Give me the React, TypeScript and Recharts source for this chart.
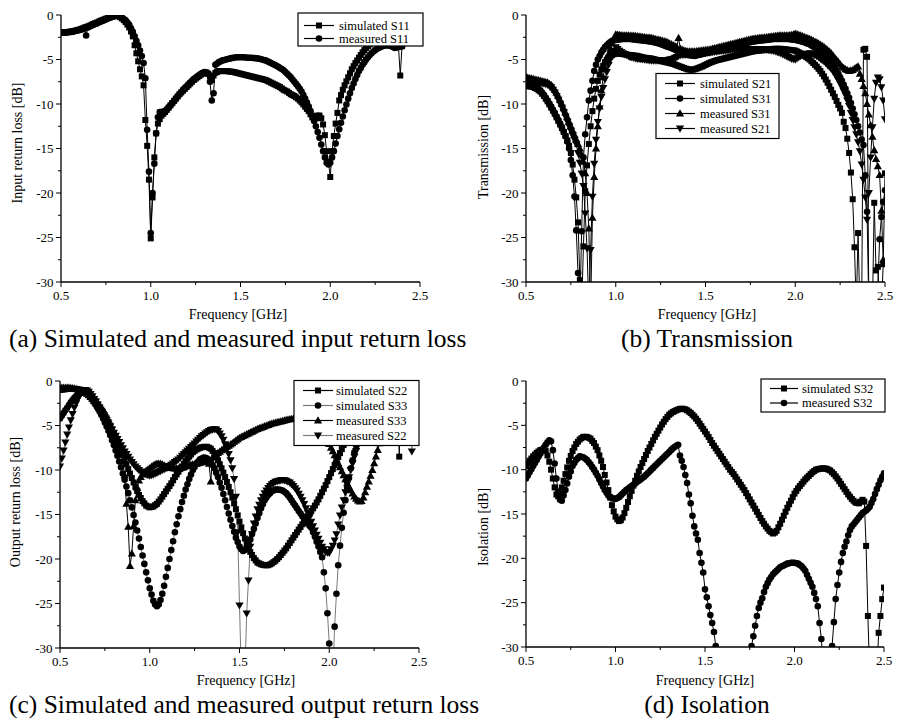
import React from 'react';
import { LineChart, Line, XAxis, YAxis } from 'recharts';

type Shape = 'square' | 'circle' | 'up' | 'down';
type V = number | null;

const FONT = "'Liberation Serif', 'Times New Roman', Times, serif";

// ---------- categories: frequency grid 0.50 .. 2.50 GHz, 0.01 GHz step ----------
const FREQ: number[] = Array.from({ length: 201 }, (_, i) => Math.round((0.5 + i * 0.01) * 100) / 100);

// ---------- axis ticks ----------
const FREQ_TICKS = [0.5, 0.75, 1, 1.25, 1.5, 1.75, 2, 2.25, 2.5];
const DB_TICKS = [0, -2.5, -5, -7.5, -10, -12.5, -15, -17.5, -20, -22.5, -25, -27.5, -30];

// ---------- (a) input return loss, rows of 10 starting at 0.50, 0.60, ... ----------
const A_SIM_S11: V[] = [
  -2.0, -1.97, -1.95, -1.92, -1.9, -1.87, -1.85, -1.8, -1.75, -1.7,
  -1.65, -1.58, -1.5, -1.42, -1.35, -1.28, -1.2, -1.1, -1.0, -0.92,
  -0.85, -0.75, -0.65, -0.57, -0.5, -0.42, -0.35, -0.27, -0.2, -0.15,
  -0.1, -0.1, -0.15, -0.25, -0.4, -0.58, -0.8, -1.08, -1.4, -1.85,
  -2.4, -3.4, -4.3, -5.2, -6.1, -6.9, -7.9, -11.8, -14.7, -18.5,
  -25.1, -20.5, -16.0, -13.3, -12.2, -11.7, -11.3, -11.1, -10.9, -10.65,
  -10.4, -10.15, -9.9, -9.65, -9.4, -9.15, -8.9, -8.7, -8.5, -8.3,
  -8.1, -7.9, -7.7, -7.5, -7.3, -7.15, -7.0, -6.85, -6.7, -6.6,
  -6.5, -6.5, -6.6, -6.9, -7.3, -6.8, -6.5, -6.4, -6.3, -6.3,
  -6.3, -6.3, -6.3, -6.32, -6.35, -6.37, -6.4, -6.45, -6.5, -6.55,
  -6.6, -6.65, -6.7, -6.75, -6.8, -6.85, -6.9, -6.95, -7.0, -7.05,
  -7.1, -7.15, -7.2, -7.25, -7.3, -7.4, -7.5, -7.6, -7.7, -7.8,
  -7.9, -8.0, -8.1, -8.25, -8.4, -8.5, -8.6, -8.75, -8.9, -9.0,
  -9.1, -9.25, -9.4, -9.6, -9.8, -10.05, -10.3, -10.55, -10.8, -11.15,
  -11.5, -11.6, -11.6, -11.3, -11.3, -11.6, -12.3, -13.5, -15.3, -16.5,
  -18.2, -15.3, -13.6, -12.2, -11.0, -9.6, -9.0, -8.4, -7.9, -7.45,
  -7.0, -6.55, -6.1, -5.75, -5.4, -5.1, -4.8, -4.5, -4.2, -3.95,
  -3.7, -3.5, -3.3, -3.15, -3.0, -2.9, -2.8, -2.7, -2.6, -2.55,
  -2.5, -2.55, -2.6, -2.7, -2.8, -2.95, -3.1, -3.3, -3.5, -6.8,
  -3.5, null, null, null, null, null, null, null, null, null,
  null,
];
const A_MEAS_S11: V[] = [
  -2.0, -2.0, -2.0, -1.97, -1.95, -1.92, -1.9, -1.85, -1.8, -1.75,
  -1.7, -1.65, -1.6, -1.55, -2.3, -1.4, -1.3, -1.2, -1.1, -1.02,
  -0.95, -0.85, -0.75, -0.67, -0.6, -0.5, -0.4, -0.32, -0.25, -0.17,
  -0.1, -0.08, -0.1, -0.18, -0.3, -0.45, -0.6, -0.85, -1.1, -1.5,
  -1.9, -2.4, -2.9, -3.4, -4.0, -4.6, -5.4, -7.1, -12.9, -17.6,
  -24.5, -20.0, -16.7, -13.3, -11.5, -10.9, -10.9, -10.85, -10.8, -10.6,
  -10.4, -10.15, -9.9, -9.65, -9.4, -9.15, -8.9, -8.65, -8.4, -8.2,
  -8.0, -7.8, -7.6, -7.4, -7.2, -7.05, -6.9, -6.75, -6.6, -6.5,
  -6.4, -6.45, -6.6, -7.5, -9.6, -8.8, -5.6, -5.45, -5.3, -5.2,
  -5.1, -5.05, -5.0, -4.95, -4.9, -4.85, -4.8, -4.78, -4.75, -4.75,
  -4.75, -4.75, -4.75, -4.77, -4.8, -4.8, -4.8, -4.83, -4.85, -4.87,
  -4.9, -4.95, -5.0, -5.05, -5.1, -5.2, -5.3, -5.4, -5.5, -5.6,
  -5.7, -5.82, -5.95, -6.07, -6.2, -6.4, -6.6, -6.8, -7.0, -7.25,
  -7.5, -7.75, -8.0, -8.3, -8.6, -9.0, -9.4, -9.85, -10.3, -10.8,
  -11.3, -11.9, -12.5, -13.15, -13.8, -14.55, -15.3, -16.0, -16.6, -16.8,
  -16.6, -16.0, -15.3, -14.45, -13.6, -12.85, -12.1, -11.4, -10.7, -10.05,
  -9.4, -8.8, -8.2, -7.7, -7.2, -6.75, -6.3, -5.95, -5.6, -5.3,
  -5.0, -4.75, -4.5, -4.3, -4.1, -3.95, -3.8, -3.7, -3.6, -3.52,
  -3.45, -3.42, -3.4, -3.45, -3.5, -3.6, -3.7, -3.65, -3.6, -3.55,
  -3.5, null, null, null, null, null, null, null, null, null,
  null,
];

// ---------- (b) transmission ----------
const B_SIM_S21: V[] = [
  -8.0, -8.0, -8.0, -8.05, -8.1, -8.2, -8.3, -8.45, -8.6, -8.85,
  -9.1, -9.4, -9.7, -10.05, -10.4, -10.75, -11.1, -11.5, -11.9, -12.3,
  -12.7, -13.15, -13.6, -14.1, -14.7, -15.5, -16.8, -18.5, -20.5, -23.3,
  -29.8, -33, -26.0, -19.8, -16.9, -14.5, -12.5, -10.8, -9.4, -8.3,
  -7.4, -6.7, -6.1, -5.7, -5.3, -5.05, -4.8, -4.65, -4.5, -4.4,
  -4.3, -4.32, -4.35, -4.37, -4.4, -4.42, -4.45, -4.47, -4.5, -4.52,
  -4.55, -4.57, -4.6, -4.65, -4.7, -4.75, -4.8, -4.82, -4.85, -4.87,
  -4.9, -4.95, -5.0, -5.05, -5.1, -5.15, -5.2, -5.25, -5.3, -5.35,
  -5.4, -5.45, -5.5, -5.57, -5.65, -5.72, -5.8, -5.87, -5.95, -6.02,
  -6.1, -6.13, -6.15, -6.13, -6.1, -6.03, -5.95, -5.87, -5.8, -5.7,
  -5.6, -5.5, -5.4, -5.32, -5.25, -5.17, -5.1, -5.05, -5.0, -4.95,
  -4.9, -4.85, -4.8, -4.75, -4.7, -4.65, -4.6, -4.55, -4.5, -4.45,
  -4.4, -4.35, -4.3, -4.25, -4.2, -4.15, -4.1, -4.07, -4.05, -4.02,
  -4.0, -3.97, -3.95, -3.92, -3.9, -3.87, -3.85, -3.82, -3.8, -3.8,
  -3.8, -3.8, -3.8, -3.82, -3.85, -3.87, -3.9, -3.92, -3.95, -3.97,
  -4.0, -4.1, -4.2, -4.3, -4.4, -4.55, -4.7, -4.85, -5.0, -5.2,
  -5.4, -5.6, -5.8, -6.05, -6.3, -6.6, -6.9, -7.25, -7.6, -8.0,
  -8.4, -8.8, -9.2, -9.65, -10.1, -10.5, -11.0, -12.0, -12.7, -13.9,
  -15.5, -17.7, -20.7, -26.1, -33, -24.5, -33, -33, -3.9, -3.8,
  -4.7, -33, -33, -33, -21.1, -28.7, -28.3, -33, -33, -28.0,
  -17.8,
];
const B_SIM_S31: V[] = [
  -7.8, -7.8, -7.8, -7.85, -7.9, -8.0, -8.1, -8.3, -8.5, -8.75,
  -9.0, -9.3, -9.6, -9.95, -10.3, -10.65, -11.0, -11.4, -11.8, -12.2,
  -12.6, -13.1, -13.6, -14.2, -15.0, -16.3, -18.0, -20.4, -24.2, -29.0,
  -33, -24.3, -16.0, -13.4, -11.5, -9.6, -8.5, -7.4, -6.3, -5.6,
  -5.0, -4.6, -4.2, -3.9, -3.6, -3.4, -3.2, -3.05, -2.9, -2.85,
  -2.8, -2.77, -2.75, -2.72, -2.7, -2.7, -2.7, -2.7, -2.7, -2.72,
  -2.75, -2.77, -2.8, -2.82, -2.85, -2.87, -2.9, -2.92, -2.95, -2.97,
  -3.0, -3.05, -3.1, -3.15, -3.2, -3.27, -3.35, -3.42, -3.5, -3.57,
  -3.65, -3.72, -3.8, -3.9, -4.0, -4.1, -4.2, -4.27, -4.35, -4.42,
  -4.5, -4.52, -4.55, -4.57, -4.6, -4.55, -4.5, -4.45, -4.4, -4.35,
  -4.3, -4.25, -4.2, -4.15, -4.1, -4.05, -4.0, -3.95, -3.9, -3.85,
  -3.8, -3.75, -3.7, -3.65, -3.6, -3.55, -3.5, -3.45, -3.4, -3.35,
  -3.3, -3.25, -3.2, -3.15, -3.1, -3.05, -3.0, -2.97, -2.95, -2.92,
  -2.9, -2.87, -2.85, -2.82, -2.8, -2.77, -2.75, -2.72, -2.7, -2.7,
  -2.7, -2.7, -2.7, -2.7, -2.7, -2.7, -2.7, -2.72, -2.75, -2.77,
  -2.8, -2.85, -2.9, -2.95, -3.0, -3.07, -3.15, -3.22, -3.3, -3.42,
  -3.55, -3.67, -3.8, -3.95, -4.1, -4.25, -4.4, -4.6, -4.8, -5.05,
  -5.3, -5.6, -5.9, -6.25, -6.6, -7.0, -7.4, -7.85, -8.3, -8.8,
  -9.3, -9.9, -10.5, -11.15, -11.8, -12.5, -13.2, -14.0, -14.6, -18.0,
  -22.1, -33, -33, -33, -33, -33, -30.5, -25.2, -22.7, -21.0,
  -19.7,
];
const B_MEAS_S31: V[] = [
  -7.0, -7.05, -7.1, -7.15, -7.2, -7.25, -7.3, -7.35, -7.4, -7.45,
  -7.5, -7.55, -7.6, -7.75, -7.9, -8.15, -8.4, -8.75, -9.1, -9.55,
  -10.0, -10.5, -11.0, -11.5, -12.0, -12.5, -13.0, -13.5, -14.0, -14.5,
  -15.0, -15.7, -16.5, -17.8, -20.0, -24.0, -33, -22.8, -18.2, -15.0,
  -12.5, -10.3, -8.5, -7.0, -5.9, -5.1, -4.4, -3.8, -3.2, -2.7,
  -2.2, -2.22, -2.25, -2.27, -2.3, -2.3, -2.3, -2.32, -2.35, -2.35,
  -2.35, -2.37, -2.4, -2.42, -2.45, -2.47, -2.5, -2.52, -2.55, -2.57,
  -2.6, -2.65, -2.7, -2.75, -2.8, -2.85, -2.9, -2.95, -3.0, -3.1,
  -3.2, -3.3, -3.4, -3.5, -3.6, -2.6, -3.8, -3.9, -4.0, -4.05,
  -4.1, -4.1, -4.1, -4.1, -4.1, -4.07, -4.05, -4.02, -4.0, -3.97,
  -3.95, -3.92, -3.9, -3.85, -3.8, -3.75, -3.7, -3.65, -3.6, -3.55,
  -3.5, -3.45, -3.4, -3.35, -3.3, -3.25, -3.2, -3.15, -3.1, -3.05,
  -3.0, -2.95, -2.9, -2.85, -2.8, -2.75, -2.7, -2.67, -2.65, -2.62,
  -2.6, -2.57, -2.55, -2.52, -2.5, -2.47, -2.45, -2.42, -2.4, -2.37,
  -2.35, -2.32, -2.3, -2.3, -2.3, -2.3, -2.3, -2.27, -2.25, -2.2,
  -2.1, -2.17, -2.25, -2.32, -2.4, -2.47, -2.55, -2.62, -2.7, -2.8,
  -2.9, -3.0, -3.1, -3.22, -3.35, -3.47, -3.6, -3.77, -3.95, -4.12,
  -4.3, -4.55, -4.8, -5.05, -5.3, -5.55, -5.8, -5.95, -6.1, -6.2,
  -6.3, -6.25, -6.2, -6.05, -5.9, -5.8, -6.6, -7.2, -8.0, -8.8,
  -10.0, -11.2, -12.4, -13.7, -15.2, -16.2, -17.0, -18.0, -22.0, -27.5,
  -27.9,
];
const B_MEAS_S21: V[] = [
  -7.3, -7.3, -7.3, -7.35, -7.4, -7.45, -7.5, -7.55, -7.6, -7.65,
  -7.7, -7.75, -7.8, -7.95, -8.1, -8.4, -8.7, -9.1, -9.5, -9.95,
  -10.4, -10.9, -11.4, -11.95, -12.5, -13.0, -13.5, -14.0, -14.5, -15.5,
  -16.6, -17.8, -19.2, -22.3, -26.2, -33, -26.4, -20.4, -16.7, -14.0,
  -12.0, -10.5, -9.2, -8.2, -7.2, -6.4, -5.6, -5.0, -4.4, -4.0,
  -3.6, -3.8, -4.0, -4.15, -4.3, -4.4, -4.5, -4.6, -4.7, -4.75,
  -4.8, -4.85, -4.9, -4.92, -4.95, -4.97, -5.0, -5.02, -5.05, -5.07,
  -5.1, -5.1, -5.1, -5.1, -5.1, -5.1, -5.1, -5.1, -5.1, -5.05,
  -5.0, -4.95, -4.9, -4.8, -4.7, -4.6, -4.5, -4.47, -4.45, -4.42,
  -4.4, -4.4, -4.4, -4.4, -4.4, -4.37, -4.35, -4.32, -4.3, -4.27,
  -4.25, -4.22, -4.2, -4.17, -4.15, -4.12, -4.1, -4.07, -4.05, -4.02,
  -4.0, -3.97, -3.95, -3.92, -3.9, -3.87, -3.85, -3.82, -3.8, -3.8,
  -3.8, -3.8, -3.8, -3.8, -3.8, -3.8, -3.8, -3.8, -3.8, -3.8,
  -3.8, -3.82, -3.85, -3.87, -3.9, -3.92, -3.95, -3.97, -4.0, -4.07,
  -4.15, -4.22, -4.3, -4.4, -4.5, -4.6, -4.7, -4.8, -4.9, -4.95,
  -5.0, -4.85, -4.7, -4.6, -4.5, -4.45, -4.4, -4.35, -4.3, -4.35,
  -4.4, -4.5, -4.6, -4.75, -4.9, -5.05, -5.2, -5.4, -5.6, -5.8,
  -6.0, -6.3, -6.6, -6.95, -7.3, -7.7, -8.1, -8.55, -9.0, -9.6,
  -10.2, -11.0, -11.8, -12.6, -13.4, -14.3, -15.3, -16.8, -18.5, -20.5,
  -23.0, -20.0, -16.0, -12.6, -9.4, -7.6, -7.0, -7.2, -8.1, -9.6,
  -11.7,
];

// ---------- (c) output return loss ----------
const C_SIM_S22: V[] = [
  -1.0, -0.97, -0.95, -0.92, -0.9, -0.9, -0.9, -0.9, -0.9, -0.92,
  -0.95, -0.97, -1.0, -1.07, -1.15, -1.27, -1.4, -1.6, -1.8, -2.05,
  -2.3, -2.6, -2.9, -3.2, -3.5, -3.85, -4.2, -4.6, -5.0, -5.45,
  -5.9, -6.35, -6.8, -7.3, -7.8, -8.3, -8.8, -9.35, -9.9, -10.4,
  -10.9, -11.4, -11.9, -12.35, -12.8, -13.15, -13.5, -13.75, -14.0, -14.1,
  -14.2, -14.15, -14.1, -13.95, -13.8, -13.55, -13.3, -13.0, -12.7, -12.4,
  -12.1, -11.8, -11.5, -11.15, -10.8, -10.5, -10.2, -9.9, -9.6, -9.3,
  -9.0, -8.75, -8.5, -8.25, -8.0, -7.85, -7.7, -7.6, -7.5, -7.45,
  -7.4, -7.4, -7.4, -7.5, -7.6, -7.85, -8.1, -8.5, -8.9, -9.35,
  -9.8, -10.3, -10.8, -11.35, -11.9, -12.5, -13.1, -13.75, -14.4, -15.1,
  -15.8, -16.45, -17.1, -17.7, -18.3, -18.75, -19.2, -19.55, -19.9, -20.15,
  -20.4, -20.5, -20.6, -20.65, -20.7, -20.7, -20.7, -20.6, -20.5, -20.35,
  -20.2, -20.0, -19.8, -19.55, -19.3, -19.05, -18.8, -18.5, -18.2, -17.9,
  -17.6, -17.3, -17.0, -16.7, -16.4, -16.1, -15.8, -15.5, -15.2, -14.9,
  -14.6, -14.3, -14.0, -13.65, -13.3, -12.9, -12.5, -12.1, -11.7, -11.25,
  -10.8, -10.35, -9.9, -9.45, -9.0, -8.55, -8.1, -7.65, -7.2, -6.75,
  -6.3, -5.9, -5.5, -5.1, -4.7, -4.35, -4.0, -3.7, -3.4, -3.15,
  -2.9, -2.65, -2.4, -2.2, -2.0, -1.8, -1.6, -1.45, -1.3, -1.15,
  -1.0, -0.9, -0.8, -0.7, -0.6, -0.55, -0.5, -0.45, -0.4, -8.5,
  -0.3, -0.28, -0.25, -0.22, -0.2, -0.2, -0.2, -0.2, -0.2, -0.25,
  -0.3,
];
const C_SIM_S33: V[] = [
  -4.2, -3.9, -3.6, -3.3, -3.0, -2.7, -2.4, -2.15, -1.9, -1.7,
  -1.5, -1.4, -1.3, -1.27, -1.3, -1.42, -1.6, -1.85, -2.1, -2.4,
  -2.7, -3.05, -3.4, -3.8, -4.2, -4.65, -5.1, -5.6, -6.1, -6.65,
  -7.2, -7.8, -8.4, -9.05, -9.7, -10.4, -11.1, -11.85, -12.6, -13.4,
  -14.2, -15.05, -15.9, -16.8, -17.7, -18.65, -19.6, -20.55, -21.5, -22.4,
  -23.3, -24.0, -24.7, -25.1, -25.3, -25.1, -24.6, -23.9, -23.0, -22.0,
  -21.0, -20.0, -19.0, -18.0, -17.0, -16.1, -15.2, -14.4, -13.6, -12.9,
  -12.2, -11.6, -11.0, -10.5, -10.0, -9.65, -9.3, -9.05, -8.8, -8.7,
  -8.6, -8.62, -8.7, -8.9, -9.1, -9.45, -9.8, -10.3, -10.8, -11.4,
  -12.0, -12.7, -13.4, -14.15, -14.9, -15.6, -16.3, -16.95, -17.6, -18.1,
  -18.6, -18.9, -19.1, -19.0, -18.8, -18.3, -17.8, -17.2, -16.6, -16.0,
  -15.4, -14.85, -14.3, -13.85, -13.4, -13.1, -12.8, -12.6, -12.4, -12.3,
  -12.2, -12.2, -12.2, -12.25, -12.3, -12.45, -12.6, -12.85, -13.1, -13.4,
  -13.7, -14.0, -14.3, -14.6, -14.9, -15.2, -15.5, -15.75, -16.0, -16.25,
  -16.5, -17.0, -17.5, -18.05, -18.6, -19.2, -19.8, -21.5, -23.3, -26.1,
  -29.5, -33, -33, -27.6, -23.9, -20.7, -18.5, -16.5, -14.8, -13.4,
  -12.0, -10.9, -9.8, -8.9, -8.0, -7.25, -6.5, -5.9, -5.3, -4.8,
  -4.3, -3.9, -3.5, -3.15, -2.8, -2.5, -2.2, -1.95, -1.7, -1.5,
  -1.3, -1.1, -0.9, -0.75, -0.6, -0.5, -0.4, -0.35, -0.3, -0.25,
  -0.2, -0.15, -0.1, -0.1, -0.1, -0.1, -0.1, -0.15, -0.2, -0.25,
  -0.3,
];
const C_MEAS_S33: V[] = [
  -0.8, -0.77, -0.75, -0.75, -0.75, -0.77, -0.8, -0.82, -0.85, -0.9,
  -0.95, -1.02, -1.1, -1.2, -1.3, -1.45, -1.6, -1.8, -2.0, -2.25,
  -2.5, -2.8, -3.1, -3.4, -3.7, -4.0, -4.35, -4.7, -5.05, -5.4,
  -5.8, -6.2, -6.7, -7.3, -8.0, -9.0, -10.6, -13.8, -16.4, -20.8,
  -19.4, -16.3, -13.4, -12.0, -11.2, -10.8, -10.5, -10.3, -10.1, -9.95,
  -9.8, -9.65, -9.5, -9.4, -9.3, -9.3, -9.3, -9.4, -9.5, -9.6,
  -9.7, -9.75, -9.8, -9.82, -9.85, -9.85, -9.85, -9.8, -9.75, -9.7,
  -9.6, -9.55, -9.5, -9.45, -9.4, -9.35, -9.3, -9.25, -9.2, -9.15,
  -9.1, -9.0, -8.95, -9.3, -11.3, -8.6, -8.4, -8.25, -8.1, -7.95,
  -7.8, -7.65, -7.5, -7.4, -7.3, -7.15, -7.0, -6.85, -6.7, -6.55,
  -6.4, -6.3, -6.2, -6.1, -6.0, -5.9, -5.8, -5.7, -5.6, -5.5,
  -5.4, -5.32, -5.25, -5.17, -5.1, -5.02, -4.95, -4.87, -4.8, -4.75,
  -4.7, -4.65, -4.6, -4.55, -4.5, -4.45, -4.4, -4.35, -4.3, -4.27,
  -4.25, -4.22, -4.2, -4.2, -4.2, -4.22, -4.25, -4.3, -4.4, -4.5,
  -4.6, -4.75, -4.9, -5.1, -5.3, -5.55, -5.8, -6.1, -6.4, -6.75,
  -7.1, -7.5, -7.9, -8.35, -8.8, -9.25, -9.7, -10.15, -10.6, -11.05,
  -11.5, -11.9, -12.3, -12.65, -13.0, -13.25, -13.45, -13.55, -13.5, -13.1,
  -12.5, -11.9, -11.3, -10.65, -10.0, -9.25, -8.5, -7.75, -7.0, -6.35,
  -5.7, -5.15, -4.6, -4.15, -3.7, -3.35, -3.0, -2.75, -2.5, -2.3,
  -2.1, -1.95, -1.8, -1.7, -1.6, -1.55, -1.5, -1.45, -1.4, -1.4,
  -1.4,
];
const C_MEAS_S22: V[] = [
  -9.6, -8.7, -7.8, -6.9, -6.0, -5.2, -4.4, -3.7, -3.0, -2.5,
  -2.0, -1.6, -1.3, -1.1, -1.0, -1.05, -1.2, -1.45, -1.7, -2.0,
  -2.3, -2.65, -3.0, -3.35, -3.7, -4.05, -4.4, -4.75, -5.1, -5.45,
  -5.8, -6.15, -6.5, -6.85, -7.2, -7.55, -7.9, -8.2, -8.5, -8.8,
  -9.1, -9.35, -9.6, -9.8, -10.0, -10.15, -10.3, -10.4, -10.5, -10.55,
  -10.6, -10.55, -10.5, -10.4, -10.3, -10.2, -10.1, -10.0, -9.9, -9.8,
  -9.7, -9.55, -9.4, -9.25, -9.1, -8.95, -8.8, -8.6, -8.4, -8.2,
  -8.0, -7.8, -7.6, -7.4, -7.2, -7.0, -6.8, -6.6, -6.4, -6.2,
  -6.05, -5.9, -5.75, -5.6, -5.5, -5.45, -5.4, -5.45, -5.6, -5.9,
  -6.2, -6.6, -7.1, -7.6, -8.2, -8.9, -9.8, -11.0, -13.0, -17.0,
  -25.2, -33, -33, -33, -26.1, -22.4, -18.6, -17.2, -16.0, -15.2,
  -14.4, -13.9, -13.4, -13.0, -12.6, -12.3, -12.0, -11.8, -11.6, -11.45,
  -11.3, -11.25, -11.2, -11.15, -11.1, -11.15, -11.2, -11.3, -11.4, -11.6,
  -11.8, -12.05, -12.3, -12.65, -13.0, -13.4, -13.8, -14.3, -14.8, -15.3,
  -15.8, -16.3, -16.8, -17.25, -17.7, -18.15, -18.6, -18.9, -19.2, -19.25,
  -19.3, -18.9, -18.5, -17.9, -17.2, -16.1, -15.1, -14.2, -13.4, -12.5,
  -11.6, -10.8, -10.0, -9.25, -8.5, -7.85, -7.2, -6.6, -6.0, -5.5,
  -5.0, -4.55, -4.1, -3.7, -3.3, -2.95, -2.6, -2.3, -2.0, -1.75,
  -1.5, -1.3, -1.1, -0.95, -0.8, -0.7, -0.6, -0.5, -0.4, -0.35,
  -0.3, -0.25, -0.2, -0.2, -0.2, -0.15, -7.9, -0.1, -0.1, -0.15,
  -1.6,
];

// ---------- (d) isolation ----------
const D_SIM_S32: V[] = [
  -9.6, -9.3, -9.0, -8.75, -8.5, -8.3, -8.1, -7.95, -7.8, -7.75,
  -7.7, -7.9, -8.4, -9.1, -10.0, -11.0, -12.0, -12.8, -13.0, -12.7,
  -12.0, -11.25, -10.5, -9.75, -9.0, -8.45, -7.9, -7.5, -7.1, -6.85,
  -6.6, -6.45, -6.3, -6.3, -6.3, -6.4, -6.5, -6.75, -7.0, -7.4,
  -7.8, -8.4, -9.0, -9.7, -10.6, -11.45, -12.3, -13.15, -14.0, -14.7,
  -15.3, -15.6, -15.8, -15.7, -15.4, -14.9, -14.3, -13.65, -13.0, -12.4,
  -11.8, -11.25, -10.7, -10.2, -9.7, -9.25, -8.8, -8.35, -7.9, -7.5,
  -7.1, -6.7, -6.3, -5.95, -5.6, -5.25, -4.9, -4.6, -4.3, -4.05,
  -3.8, -3.65, -3.5, -3.4, -3.3, -3.22, -3.15, -3.12, -3.15, -3.2,
  -3.3, -3.45, -3.6, -3.8, -4.0, -4.25, -4.5, -4.8, -5.1, -5.4,
  -5.7, -6.0, -6.3, -6.65, -7.0, -7.3, -7.6, -7.9, -8.2, -8.5,
  -8.8, -9.1, -9.4, -9.7, -10.0, -10.25, -10.5, -10.8, -11.1, -11.4,
  -11.7, -12.0, -12.3, -12.65, -13.0, -13.35, -13.7, -14.05, -14.4, -14.75,
  -15.1, -15.45, -15.8, -16.1, -16.4, -16.65, -16.9, -17.05, -17.2, -17.1,
  -16.9, -16.5, -16.1, -15.65, -15.2, -14.75, -14.3, -13.9, -13.5, -13.1,
  -12.7, -12.4, -12.1, -11.85, -11.6, -11.35, -11.1, -10.9, -10.7, -10.5,
  -10.3, -10.15, -10.0, -9.95, -9.9, -9.87, -9.85, -9.87, -9.9, -10.0,
  -10.1, -10.3, -10.5, -10.75, -11.0, -11.3, -11.6, -11.9, -12.2, -12.5,
  -12.8, -13.05, -13.3, -13.5, -13.7, -13.75, -13.8, -13.6, -13.4, -13.6,
  -18.6, -26.5, -33, -33, -33, -33, -33, -28.4, -26.5, -24.6,
  -23.3,
];
const D_MEAS_S32: V[] = [
  -11.0, -10.65, -10.3, -9.95, -9.6, -9.25, -8.9, -8.55, -8.2, -7.85,
  -7.5, -7.2, -6.9, -6.7, -6.8, -7.8, -9.3, -11.0, -12.5, -13.4,
  -13.5, -12.9, -12.3, -11.55, -10.8, -10.2, -9.6, -9.25, -8.9, -8.7,
  -8.5, -8.55, -8.6, -8.75, -8.9, -9.15, -9.4, -9.7, -10.0, -10.35,
  -10.7, -11.1, -11.5, -11.9, -12.3, -12.6, -12.9, -13.05, -13.2, -13.25,
  -13.3, -13.2, -13.1, -12.9, -12.7, -12.5, -12.3, -12.15, -12.0, -11.85,
  -11.7, -11.55, -11.4, -11.25, -11.1, -10.95, -10.8, -10.6, -10.4, -10.2,
  -10.0, -9.8, -9.6, -9.4, -9.2, -9.0, -8.8, -8.6, -8.4, -8.2,
  -8.0, -7.8, -7.6, -7.45, -7.3, -7.2, -8.4, -9.0, -9.7, -10.6,
  -11.5, -12.8, -13.8, -15.2, -16.4, -17.2, -17.9, -19.4, -20.5, -21.6,
  -23.5, -24.4, -25.4, -26.4, -27.3, -28.3, -29.9, -31, -32, -33,
  -34, -34, -34, -34, -34, -34, -34, -34, -34, -34,
  -34, -34, -34, -33, -32, -31, -29.9, -28.8, -27.6, -26.5,
  -25.6, -25.0, -24.5, -23.8, -23.2, -22.8, -22.4, -22.1, -21.8, -21.6,
  -21.4, -21.2, -21.0, -20.9, -20.8, -20.7, -20.6, -20.55, -20.5, -20.5,
  -20.5, -20.55, -20.6, -20.75, -20.9, -21.15, -21.4, -21.85, -22.3, -22.75,
  -23.2, -23.9, -24.6, -25.4, -27.3, -29.1, -32, -34, -34, -34,
  -33, -29.9, -27.2, -24.6, -23.0, -21.6, -20.4, -19.4, -18.7, -18.1,
  -17.4, -16.8, -16.4, -16.15, -15.9, -15.65, -15.4, -15.15, -14.9, -14.75,
  -14.6, -14.4, -14.2, -13.75, -13.3, -12.75, -12.2, -11.7, -11.2, -10.8,
  -10.4,
];

// ---------- rendering ----------
function Marker({ shape, cx, cy }: { shape: Shape; cx: number; cy: number }) {
  if (shape === 'square') return <rect x={cx - 3} y={cy - 3} width={6} height={6} fill="#000" />;
  if (shape === 'circle') return <circle cx={cx} cy={cy} r={3.3} fill="#000" />;
  if (shape === 'up')
    return <polygon points={`${cx},${cy - 4.3} ${cx + 4.1},${cy + 2.9} ${cx - 4.1},${cy + 2.9}`} fill="#000" />;
  return <polygon points={`${cx},${cy + 4.3} ${cx + 4.1},${cy - 2.9} ${cx - 4.1},${cy - 2.9}`} fill="#000" />;
}

interface SeriesDef { name: string; values: V[]; shape: Shape; color: string }
interface PanelDef {
  left: number; top: number; width: number; height: number;
  plot: { l: number; t: number; r: number; b: number };
  series: SeriesDef[];
}

const Y_AXIS_W = 30;
const X_AXIS_H = 24;
const BLACK = '#000';
const GRAY = '#7a7a7a';

const toData = (values: V[]) =>
  FREQ.map((f, i) => ({ f, v: values[i] })).filter((d) => d.v !== null && d.v !== undefined);

function Panel({ def }: { def: PanelDef }) {
  const { plot, width, height } = def;
  const margin = {
    top: plot.t,
    left: plot.l - Y_AXIS_W,
    right: width - plot.r,
    bottom: height - plot.b - X_AXIS_H,
  };
  const yTick = (p: any) => {
    const v = p.payload.value as number;
    const y = p.y as number;
    const major = Math.abs(v % 5) < 1e-6;
    return (
      <g key={`y${v}`}>
        <line x1={plot.l} x2={plot.l - (major ? 5 : 3)} y1={y} y2={y} stroke={BLACK} strokeWidth={1} />
        {major && (
          <text x={plot.l - 7.5} y={y + 4.5} textAnchor="end" fontSize={13} fontFamily={FONT} fill={BLACK}>
            {String(v)}
          </text>
        )}
      </g>
    );
  };
  const xTick = (p: any) => {
    const v = p.payload.value as number;
    const x = p.x as number;
    const major = Math.abs(v * 2 - Math.round(v * 2)) < 1e-6;
    return (
      <g key={`x${v}`}>
        <line x1={x} x2={x} y1={plot.b} y2={plot.b + (major ? 5 : 3)} stroke={BLACK} strokeWidth={1} />
        {major && (
          <text x={x} y={plot.b + 18} textAnchor="middle" fontSize={13} fontFamily={FONT} fill={BLACK}>
            {v.toFixed(1)}
          </text>
        )}
      </g>
    );
  };
  return (
    <div style={{ position: 'absolute', left: def.left, top: def.top }}>
      <LineChart width={width} height={height} margin={margin}>
        <XAxis
          type="number"
          dataKey="f"
          domain={[0.5, 2.5]}
          ticks={FREQ_TICKS}
          interval={0}
          allowDataOverflow
          height={X_AXIS_H}
          axisLine={{ stroke: BLACK, strokeWidth: 1.3 }}
          tickLine={false}
          tick={xTick}
        />
        <YAxis
          type="number"
          domain={[-30, 0]}
          ticks={DB_TICKS}
          interval={0}
          allowDataOverflow
          width={Y_AXIS_W}
          axisLine={{ stroke: BLACK, strokeWidth: 1.3 }}
          tickLine={false}
          tick={yTick}
        />
        {def.series.map((s) => (
          <Line
            key={s.name}
            data={toData(s.values)}
            dataKey="v"
            name={s.name}
            type="linear"
            stroke={s.color}
            strokeWidth={1}
            isAnimationActive={false}
            activeDot={false}
            dot={(p: any) =>
              p.cx == null || p.cy == null ? (
                <g key={`${s.name}-${p.index}`} />
              ) : (
                <Marker key={`${s.name}-${p.index}`} shape={s.shape} cx={p.cx} cy={p.cy} />
              )
            }
          />
        ))}
      </LineChart>
    </div>
  );
}

const PANELS: PanelDef[] = [
  {
    left: 0, top: 0, width: 450, height: 340,
    plot: { l: 61, t: 15, r: 420, b: 282 },
    series: [
      { name: 'simulated S11', values: A_SIM_S11, shape: 'square', color: BLACK },
      { name: 'measured S11', values: A_MEAS_S11, shape: 'circle', color: BLACK },
    ],
  },
  {
    left: 450, top: 0, width: 449, height: 340,
    plot: { l: 76, t: 15, r: 435, b: 282 },
    series: [
      { name: 'simulated S21', values: B_SIM_S21, shape: 'square', color: BLACK },
      { name: 'simulated S31', values: B_SIM_S31, shape: 'circle', color: BLACK },
      { name: 'measured S31', values: B_MEAS_S31, shape: 'up', color: BLACK },
      { name: 'measured S21', values: B_MEAS_S21, shape: 'down', color: BLACK },
    ],
  },
  {
    left: 0, top: 360, width: 450, height: 340,
    plot: { l: 60, t: 21, r: 419, b: 288 },
    series: [
      { name: 'simulated S22', values: C_SIM_S22, shape: 'square', color: BLACK },
      { name: 'simulated S33', values: C_SIM_S33, shape: 'circle', color: GRAY },
      { name: 'measured S33', values: C_MEAS_S33, shape: 'up', color: BLACK },
      { name: 'measured S22', values: C_MEAS_S22, shape: 'down', color: GRAY },
    ],
  },
  {
    left: 450, top: 360, width: 449, height: 340,
    plot: { l: 76, t: 21, r: 434, b: 287 },
    series: [
      { name: 'simulated S32', values: D_SIM_S32, shape: 'square', color: BLACK },
      { name: 'measured S32', values: D_MEAS_S32, shape: 'circle', color: BLACK },
    ],
  },
];

interface LegendDef {
  x: number; y: number; w: number; h: number;
  rowYs: number[]; lx1: number; lx2: number; tx: number;
  items: { label: string; shape: Shape; color: string }[];
}

const LEGENDS: LegendDef[] = [
  {
    x: 298, y: 13, w: 125, h: 33, rowYs: [25.5, 38.5], lx1: 304, lx2: 334, tx: 339,
    items: [
      { label: 'simulated S11', shape: 'square', color: BLACK },
      { label: 'measured S11', shape: 'circle', color: BLACK },
    ],
  },
  {
    x: 656, y: 73.5, w: 123, h: 65, rowYs: [83.5, 98.5, 113.5, 128.5], lx1: 665, lx2: 695, tx: 700,
    items: [
      { label: 'simulated S21', shape: 'square', color: BLACK },
      { label: 'simulated S31', shape: 'circle', color: BLACK },
      { label: 'measured S31', shape: 'up', color: BLACK },
      { label: 'measured S21', shape: 'down', color: BLACK },
    ],
  },
  {
    x: 294, y: 380.5, w: 125, h: 65, rowYs: [390.5, 405.5, 420.5, 435.5], lx1: 303, lx2: 333, tx: 336,
    items: [
      { label: 'simulated S22', shape: 'square', color: BLACK },
      { label: 'simulated S33', shape: 'circle', color: GRAY },
      { label: 'measured S33', shape: 'up', color: BLACK },
      { label: 'measured S22', shape: 'down', color: GRAY },
    ],
  },
  {
    x: 761, y: 379, w: 124, h: 33, rowYs: [388.5, 403], lx1: 770, lx2: 798, tx: 802,
    items: [
      { label: 'simulated S32', shape: 'square', color: BLACK },
      { label: 'measured S32', shape: 'circle', color: BLACK },
    ],
  },
];

const Y_TITLES = [
  { text: 'Input return loss [dB]', x: 21.5, y: 143 },
  { text: 'Transmission [dB]', x: 488, y: 147 },
  { text: 'Output return loss [dB]', x: 19.5, y: 502 },
  { text: 'Isolation [dB]', x: 488, y: 527 },
];
const X_TITLES = [
  { text: 'Frequency [GHz]', x: 238, y: 319 },
  { text: 'Frequency [GHz]', x: 707, y: 319 },
  { text: 'Frequency [GHz]', x: 246, y: 685 },
  { text: 'Frequency [GHz]', x: 705, y: 685 },
];
const CAPTIONS = [
  { text: '(a) Simulated and measured input return loss', x: 9, y: 347, anchor: 'start' },
  { text: '(b) Transmission', x: 707, y: 347, anchor: 'middle' },
  { text: '(c) Simulated and measured output return loss', x: 9, y: 713, anchor: 'start' },
  { text: '(d) Isolation', x: 707, y: 713, anchor: 'middle' },
];

export default function App() {
  return (
    <div style={{ position: 'absolute', left: 0, top: 0, width: 899, height: 724, background: '#fff', overflow: 'hidden' }}>
      {PANELS.map((p, i) => (
        <Panel key={i} def={p} />
      ))}
      <svg width={899} height={724} style={{ position: 'absolute', left: 0, top: 0, pointerEvents: 'none' }}>
        {LEGENDS.map((lg, i) => (
          <g key={`lg${i}`}>
            <rect x={lg.x} y={lg.y} width={lg.w} height={lg.h} fill="#fff" stroke={BLACK} strokeWidth={1.2} />
            {lg.items.map((it, j) => {
              const y = lg.rowYs[j];
              const mx = (lg.lx1 + lg.lx2) / 2;
              return (
                <g key={j}>
                  <line x1={lg.lx1} x2={lg.lx2} y1={y} y2={y} stroke={it.color} strokeWidth={1.2} />
                  <Marker shape={it.shape} cx={mx} cy={y} />
                  <text x={lg.tx} y={y + 4.3} fontSize={12.5} fontFamily={FONT} fill={BLACK}>
                    {it.label}
                  </text>
                </g>
              );
            })}
          </g>
        ))}
        {Y_TITLES.map((t, i) => (
          <text key={`yt${i}`} x={t.x} y={t.y} transform={`rotate(-90 ${t.x} ${t.y})`} textAnchor="middle" fontSize={14} fontFamily={FONT} fill={BLACK}>
            {t.text}
          </text>
        ))}
        {X_TITLES.map((t, i) => (
          <text key={`xt${i}`} x={t.x} y={t.y} textAnchor="middle" fontSize={14} fontFamily={FONT} fill={BLACK}>
            {t.text}
          </text>
        ))}
        {CAPTIONS.map((t, i) => (
          <text key={`cp${i}`} x={t.x} y={t.y} textAnchor={t.anchor as any} fontSize={25.5} fontFamily={FONT} fill={BLACK}>
            {t.text}
          </text>
        ))}
      </svg>
    </div>
  );
}
